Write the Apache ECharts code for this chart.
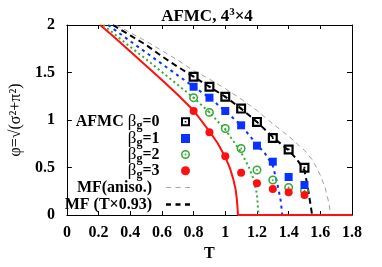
<!DOCTYPE html>
<html><head><meta charset="utf-8">
<script src="https://cdn.jsdelivr.net/npm/echarts@6/dist/echarts.min.js"></script>
<style>html,body{margin:0;padding:0;background:#fff}#c{width:382px;height:267px}</style>
</head><body><div id="c"></div>
<script>
// AFMC data points (temperature T, order parameter phi)
const T = [0.8, 0.9, 1.0, 1.1, 1.2, 1.3, 1.4, 1.5];
const phiBg0 = [1.456, 1.35, 1.245, 1.12, 0.98, 0.81, 0.69, 0.498];
const phiBg1 = [1.35, 1.235, 1.095, 0.944, 0.73, 0.561, 0.40, 0.316];
const phiBg2 = [1.235, 1.08, 0.91, 0.70, 0.474, 0.368, 0.29, 0.256];
const phiBg3 = [1.095, 0.87, 0.618, 0.445, 0.333, 0.274, 0.239, 0.21];

// Mean-field curves
const mfAnisoT   = [0.31, 0.4, 0.5, 0.6, 0.7, 0.8, 0.9, 1.0, 1.1, 1.2, 1.3, 1.4, 1.5, 1.55, 1.6, 1.63, 1.655, 1.665];
const mfAnisoPhi = [2.0, 1.92, 1.83, 1.73, 1.63, 1.52, 1.43, 1.33, 1.22, 1.1, 0.96, 0.83, 0.68, 0.58, 0.42, 0.29, 0.12, 0];
const mfScaledT   = [0.29, 0.4, 0.5, 0.6, 0.7, 0.8, 0.9, 1.0, 1.1, 1.2, 1.3, 1.4, 1.45, 1.5, 1.52, 1.54, 1.548];
const mfScaledPhi = [2.0, 1.89, 1.79, 1.67, 1.56, 1.456, 1.35, 1.245, 1.12, 0.98, 0.82, 0.68, 0.59, 0.47, 0.30, 0.09, 0];
const mfBg1T   = [0.26, 0.4, 0.5, 0.6, 0.7, 0.8, 0.9, 1.0, 1.1, 1.2, 1.25, 1.3, 1.33, 1.35, 1.36];
const mfBg1Phi = [2.0, 1.83, 1.71, 1.59, 1.47, 1.35, 1.235, 1.095, 0.944, 0.74, 0.65, 0.52, 0.32, 0.15, 0];
const mfBg2T   = [0.23, 0.3, 0.4, 0.5, 0.6, 0.7, 0.8, 0.9, 1.0, 1.05, 1.1, 1.15, 1.18, 1.2, 1.21];
const mfBg2Phi = [2.0, 1.905, 1.77, 1.64, 1.505, 1.37, 1.235, 1.08, 0.9, 0.78, 0.66, 0.5, 0.37, 0.22, 0];
const mfBg3T   = [0.21, 0.3, 0.4, 0.5, 0.6, 0.7, 0.8, 0.9, 0.95, 1.0, 1.03, 1.05, 1.065, 1.072, 1.077, 1.08, 1.8];
const mfBg3Phi = [2.0, 1.87, 1.72, 1.57, 1.42, 1.265, 1.1, 0.88, 0.76, 0.61, 0.49, 0.38, 0.27, 0.18, 0.08, 0, 0];

const xTicks = ['0', '0.2', '0.4', '0.6', '0.8', '1', '1.2', '1.4', '1.6', '1.8'];
const yTicks = ['0', '0.5', '1', '1.5', '2'];

const pairs = (xs, ys) => xs.map((x, i) => [x, ys[i]]);
const SERIF = 'Liberation Serif';
const sqDot = 'path://M0,0H10V10H0Z M2.2,2.2V7.8H7.8V2.2Z M4.1,4.1H5.9V5.9H4.1Z';
const sqFill = 'path://M0,0H10V10H0Z';
const ringDot = 'path://M5,0A5,5 0 1,1 5,10A5,5 0 1,1 5,0Z M5,1.7A3.3,3.3 0 1,0 5,8.3A3.3,3.3 0 1,0 5,1.7Z M5,4A1,1 0 1,1 5,6A1,1 0 1,1 5,4Z';
const dashThin = 'path://M0,0H5V0.8H0Z M9.5,0H14.5V0.8H9.5Z M19,0H24V0.8H19Z';
const dashThick = 'path://M0,0H5V2.4H0Z M9.5,0H14.5V2.4H9.5Z M19,0H24V2.4H19Z';
const BLUE = '#0a32ff', GREEN = '#33aa33', RED = '#ff1010';

const labels = {
  b0: '{b|AFMC }{g|β}{s|g}{e|=0}',
  b1: '{g|β}{s|g}{e|=1}',
  b2: '{g|β}{s|g}{e|=2}',
  b3: '{g|β}{s|g}{e|=3}',
  aniso: '{e|MF(aniso.)}',
  t093: '{e|MF (T×0.93)}'
};

const lineS = (name, xs, ys, color, width, type) => ({
  type: 'line', name, data: pairs(xs, ys), showSymbol: false, symbol: 'none',
  lineStyle: { color, width, type }, itemStyle: { color }, z: 2, silent: true, animation: false
});
const scat = (name, ys, symbol, color, size) => ({
  type: 'scatter', name, data: pairs(T, ys), symbol, symbolSize: size,
  itemStyle: { color, opacity: 1 }, z: 5, animation: false
});

const legendText = {
  fontFamily: SERIF, fontSize: 16, fontWeight: 'bold', color: '#000',
  rich: {
    b: { fontFamily: SERIF, fontSize: 16, fontWeight: 'bold', color: '#000' },
    g: { fontFamily: SERIF, fontSize: 17, fontWeight: 'normal', color: '#000' },
    s: { fontFamily: SERIF, fontSize: 12, fontWeight: 'bold', color: '#000', padding: [9, 0, 0, 0] },
    e: { fontFamily: SERIF, fontSize: 16, fontWeight: 'bold', color: '#000', padding: [0, 9, 0, 0] }
  }
};
const legendItem = (item, top) => ({
  orient: 'vertical', align: 'right', right: 192, top, padding: 0,
  itemWidth: 24, itemHeight: 9, selectedMode: false,
  data: [item], formatter: n => labels[n], textStyle: legendText
});

const chart = echarts.init(document.getElementById('c'), null, { renderer: 'canvas' });
chart.setOption({
  animation: false,
  backgroundColor: '#fff',
  title: {
    text: 'AFMC, 4{sup|3}×4', left: 207, top: 8, textAlign: 'center', padding: 0,
    textStyle: { fontFamily: SERIF, fontSize: 17, fontWeight: 'bold', color: '#000', lineHeight: 17,
      rich: { sup: { fontFamily: SERIF, fontSize: 11, fontWeight: 'bold', lineHeight: 17, padding: [0, 0, 8, 0] } } }
  },
  grid: { left: 62, right: 30, top: 25, bottom: 52, containLabel: false },
  legend: [
    legendItem({ name: 'b0' }, 113.3),
    legendItem({ name: 'b1' }, 130),
    legendItem({ name: 'b2' }, 146),
    legendItem({ name: 'b3' }, 162.3),
    legendItem({ name: 'aniso', icon: dashThin }, 179.7),
    legendItem({ name: 't093', icon: dashThick }, 196.5)
  ],
  xAxis: [{
    type: 'value', min: 0, max: 1.8, interval: 0.2, position: 'bottom',
    name: 'T', nameLocation: 'middle', nameGap: 30,
    nameTextStyle: { fontFamily: SERIF, fontSize: 16, fontWeight: 'bold', color: '#000' },
    axisLine: { show: true, onZero: false, lineStyle: { color: '#000', width: 1 } },
    axisTick: { show: true, inside: true, length: 4, lineStyle: { color: '#000' } },
    splitLine: { show: false },
    axisLabel: { margin: 10, fontFamily: SERIF, fontSize: 16, fontWeight: 'bold', color: '#000',
      formatter: v => xTicks[Math.round(v / 0.2)] }
  }, {
    type: 'value', min: 0, max: 1.8, interval: 0.2, position: 'top',
    axisLine: { show: true, onZero: false, lineStyle: { color: '#000', width: 1 } },
    axisTick: { show: true, inside: true, length: 4, lineStyle: { color: '#000' } },
    splitLine: { show: false }, axisLabel: { show: false }
  }],
  yAxis: [{
    type: 'value', min: 0, max: 2, interval: 0.5, position: 'left',
    name: 'φ=√(σ²+π²)', nameLocation: 'middle', nameGap: 36,
    nameTextStyle: { fontFamily: SERIF, fontSize: 16, color: '#000' },
    axisLine: { show: true, onZero: false, lineStyle: { color: '#000', width: 1 } },
    axisTick: { show: true, inside: true, length: 5, lineStyle: { color: '#000' } },
    splitLine: { show: false },
    axisLabel: { margin: 12, fontFamily: SERIF, fontSize: 16, fontWeight: 'bold', color: '#000',
      formatter: v => yTicks[Math.round(v / 0.5)] }
  }, {
    type: 'value', min: 0, max: 2, interval: 0.5, position: 'right',
    axisLine: { show: true, onZero: false, lineStyle: { color: '#000', width: 1 } },
    axisTick: { show: true, inside: true, length: 5, lineStyle: { color: '#000' } },
    splitLine: { show: false }, axisLabel: { show: false }
  }],
  series: [
    lineS('aniso', mfAnisoT, mfAnisoPhi, '#888888', 0.8, [5, 4]),
    lineS('bg2line', mfBg2T, mfBg2Phi, GREEN, 2, [2, 3]),
    lineS('bg1line', mfBg1T, mfBg1Phi, BLUE, 2, [3, 4]),
    lineS('t093', mfScaledT, mfScaledPhi, '#000000', 2, [6, 4]),
    lineS('bg3line', mfBg3T, mfBg3Phi, RED, 2, 'solid'),
    scat('b2', phiBg2, ringDot, GREEN, 9),
    scat('b1', phiBg1, sqFill, BLUE, 8),
    scat('b0', phiBg0, sqDot, '#000000', 10),
    scat('b3', phiBg3, 'circle', RED, 8)
  ]
});
</script></body></html>
